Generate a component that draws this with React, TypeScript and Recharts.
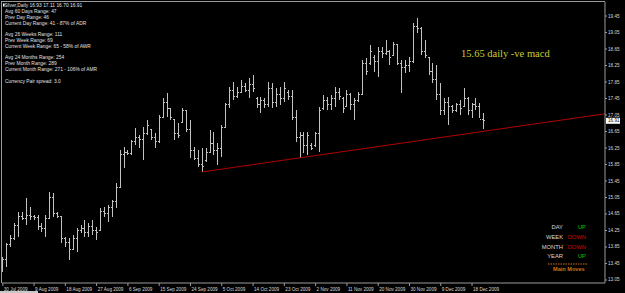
import React from 'react'
import { Bar, ComposedChart, ReferenceLine, XAxis, YAxis } from 'recharts'

// Silver, Daily OHLC, 30 Jul 2009 .. 22 Dec 2009
const highs = [
  13.61, 13.95, 14.14, 14.43, 14.7, 14.7, 15.04, 14.82, 14.63, 14.63, 14.43, 14.63, 15.18, 15.16, 14.7, 14.58,
  14.09, 14.07, 14.14, 14.31, 14.38, 14.51, 14.43, 14.51, 14.34, 14.8, 14.82, 14.87, 14.99, 15.4, 16.2, 16.27,
  16.2, 16.44, 16.74, 16.57, 16.76, 16.93, 16.69, 16.61, 17.05, 17.46, 17.58, 17.22, 16.93, 16.86, 17.22, 17.17,
  16.93, 16.27, 16.2, 16.25, 16.25, 16.69, 16.64, 16.37, 16.81, 17.34, 17.73, 17.85, 17.73, 17.9, 17.83, 17.95,
  18.02, 17.49, 17.49, 17.46, 17.85, 17.83, 17.7, 17.73, 17.85, 17.66, 17.66, 17.17, 16.64, 16.64, 16.64, 16.37,
  16.64, 17.24, 17.54, 17.49, 17.54, 17.73, 17.7, 17.49, 17.66, 17.58, 17.46, 17.61, 18.38, 18.43, 18.75, 18.5,
  18.7, 18.7, 18.87, 18.63, 18.82, 18.75, 18.38, 18.38, 18.46, 19.28, 19.4, 19.18, 18.87, 18.46, 18.31, 18.26,
  17.83, 17.46, 17.49, 17.29, 17.34, 17.41, 17.7, 17.49, 17.34, 17.46, 17.34, 17.11,
]
const lows = [
  13.24, 13.37, 13.85, 14.02, 14.09, 14.51, 14.38, 14.51, 14.51, 14.26, 14.21, 14.09, 14.55, 14.58, 14.55, 13.95,
  13.85, 13.54, 13.78, 13.73, 14.19, 14.09, 14.09, 14.14, 14.02, 14.26, 14.58, 14.46, 14.58, 14.8, 15.3, 15.77,
  16.08, 16.08, 16.32, 16.25, 15.96, 16.57, 16.44, 16.25, 16.37, 17.0, 17.0, 16.93, 16.44, 16.49, 16.88, 16.64,
  16.01, 15.96, 15.79, 15.67, 15.91, 16.15, 16.08, 15.84, 16.03, 16.74, 17.22, 17.41, 17.46, 17.58, 17.61, 17.46,
  17.61, 17.22, 17.1, 17.22, 17.24, 17.22, 17.24, 17.29, 17.37, 17.41, 16.93, 16.4, 16.01, 16.13, 16.08, 16.2,
  16.27, 16.15, 17.17, 17.17, 17.17, 17.24, 17.41, 17.1, 17.24, 17.17, 16.93, 17.37, 17.54, 18.02, 18.26, 18.09,
  17.97, 18.43, 18.5, 18.26, 18.5, 18.26, 17.58, 18.07, 18.09, 18.31, 19.04, 18.5, 18.43, 18.02, 17.83, 17.41,
  17.05, 17.05, 16.81, 17.1, 17.12, 17.05, 17.24, 17.05, 16.98, 17.17, 16.98, 16.7,
]
const opens = [
  13.3, 13.55, 13.9, 14.05, 14.38, 14.6, 14.55, 14.62, 14.58, 14.56, 14.35, 14.3, 14.55, 15.05, 14.65, 14.58,
  14.05, 13.95, 13.8, 14.05, 14.25, 14.3, 14.2, 14.35, 14.25, 14.26, 14.7, 14.65, 14.8, 14.95, 15.3, 16.1,
  16.15, 16.12, 16.4, 16.5, 16.45, 16.6, 16.69, 16.5, 16.4, 17.0, 17.35, 17.2, 16.93, 16.6, 16.88, 17.15,
  16.7, 16.2, 16.0, 15.85, 15.95, 16.15, 16.35, 16.2, 16.25, 16.75, 17.3, 17.65, 17.5, 17.6, 17.75, 17.65,
  17.8, 17.45, 17.3, 17.4, 17.3, 17.7, 17.35, 17.55, 17.45, 17.6, 17.5, 17.0, 16.5, 16.55, 16.3, 16.3,
  16.3, 16.6, 17.2, 17.4, 17.3, 17.45, 17.6, 17.45, 17.25, 17.55, 17.3, 17.4, 17.55, 18.3, 18.3, 18.45,
  18.35, 18.6, 18.55, 18.6, 18.5, 18.75, 18.3, 18.2, 18.25, 18.35, 19.2, 19.15, 18.6, 18.45, 18.1, 17.9,
  17.55, 17.15, 17.35, 17.25, 17.15, 17.3, 17.25, 17.45, 17.15, 17.3, 17.25, 16.93,
]
const closes = [
  13.55, 13.9, 14.05, 14.38, 14.6, 14.55, 14.62, 14.58, 14.56, 14.35, 14.3, 14.55, 15.05, 14.65, 14.6, 14.05,
  13.95, 13.8, 14.05, 14.25, 14.3, 14.2, 14.35, 14.25, 14.2, 14.7, 14.65, 14.8, 14.95, 15.3, 16.1, 16.15,
  16.12, 16.4, 16.5, 16.45, 16.6, 16.8, 16.5, 16.4, 17.0, 17.35, 17.2, 17.0, 16.6, 16.55, 17.15, 16.7,
  16.2, 16.0, 15.85, 15.8, 16.15, 16.35, 16.2, 16.25, 16.75, 17.3, 17.65, 17.5, 17.6, 17.75, 17.65, 17.8,
  17.7, 17.3, 17.4, 17.3, 17.7, 17.35, 17.55, 17.45, 17.7, 17.5, 17.0, 16.5, 16.55, 16.3, 16.55, 16.25,
  16.6, 17.15, 17.4, 17.3, 17.45, 17.6, 17.5, 17.2, 17.55, 17.3, 17.4, 17.55, 18.3, 18.1, 18.6, 18.35,
  18.6, 18.55, 18.6, 18.45, 18.75, 18.3, 18.2, 18.25, 18.35, 19.2, 19.15, 18.6, 18.5, 18.1, 17.9, 17.55,
  17.15, 17.35, 17.25, 17.15, 17.3, 17.2, 17.45, 17.15, 17.3, 17.25, 16.95, 16.91,
]

const dateTickIdx = [0, 8, 16, 24, 32, 40, 48, 56, 64, 72, 80, 88, 96, 104, 112, 120]
const dateLabels = [
  '30 Jul 2009', '9 Aug 2009', '18 Aug 2009', '27 Aug 2009', '6 Sep 2009', '15 Sep 2009', '24 Sep 2009',
  '5 Oct 2009', '14 Oct 2009', '23 Oct 2009', '2 Nov 2009', '11 Nov 2009', '20 Nov 2009', '30 Nov 2009',
  '9 Dec 2009', '18 Dec 2009',
]
const priceTicks = [
  13.05, 13.45, 13.85, 14.25, 14.65, 15.05, 15.45, 15.85, 16.25, 16.65, 17.05, 17.45, 17.85, 18.25, 18.65,
  19.05, 19.45,
]
const lastPrice = 16.91
const trendFrom = { i: 51, p: 15.67 }
const trendTo = { i: 154, p: 17.08 }

const infoLines = [
  { t: 'Silver,Daily  16.93 17.11 16.70 16.91', y: 5.7 },
  { t: 'Avg 60 Days Range: 47', y: 11 },
  { t: 'Prev Day Range: 46', y: 17 },
  { t: 'Current Day Range: 41 - 87% of ADR', y: 23 },
  { t: 'Avg 26 Weeks Range: 111', y: 34 },
  { t: 'Prev Week Range: 69', y: 40 },
  { t: 'Current Week Range: 65 - 58% of AWR', y: 46 },
  { t: 'Avg 24 Months Range: 254', y: 57.5 },
  { t: 'Prev Month Range: 289', y: 63.5 },
  { t: 'Current Month Range: 271 - 106% of AMR', y: 69.5 },
  { t: 'Currency Pair spread: 3.0', y: 81 },
]
const moveLabels = ['DAY', 'WEEK', 'MONTH', 'YEAR']
const moveDirs = ['UP', 'DOWN', 'DOWN', 'UP']

const data = highs.map((h, i) => ({
  i,
  range: [lows[i], h],
  high: h,
  low: lows[i],
  open: opens[i],
  close: closes[i],
}))

const SANS = '"Liberation Sans", Arial, sans-serif'
const BAR = '#c2c2c2'
const FRAME = '#9a9a9a'

function OhlcBar(props: any) {
  const { x, y, width, height, payload } = props
  if (!payload) return null
  const cx = Math.round(x + width / 2) + 0.5
  const span = payload.high - payload.low || 1
  const yo = y + ((payload.high - payload.open) / span) * height
  const yc = y + ((payload.high - payload.close) / span) * height
  return (
    <g stroke={BAR} strokeWidth={1} shapeRendering="crispEdges">
      <line x1={cx} x2={cx} y1={y} y2={y + height} />
      <line x1={cx - 1.5} x2={cx} y1={yo} y2={yo} />
      <line x1={cx} x2={cx + 1.5} y1={yc} y2={yc} />
    </g>
  )
}

function DateTick({ x, y, payload }: any) {
  const label = dateLabels[dateTickIdx.indexOf(payload.value)]
  return (
    <text x={x + 1} y={y + 1} fontSize={4.6} fill="#d8d8d8" fontFamily={SANS} dominantBaseline="central">
      {label}
    </text>
  )
}

function PriceTick({ x, y, payload }: any) {
  return (
    <text x={x} y={y} fontSize={4.6} fill="#d8d8d8" fontFamily={SANS} dominantBaseline="central">
      {payload.value.toFixed(2)}
    </text>
  )
}

function PriceTag({ viewBox }: any) {
  const right = viewBox.x + viewBox.width
  const y = viewBox.y
  return (
    <g>
      <rect x={right + 1} y={y - 3} width={14} height={6} fill="#ffffff" />
      <text x={right + 3} y={y} fontSize={4.6} fill="#000" fontFamily={SANS} dominantBaseline="central">
        {lastPrice.toFixed(2)}
      </text>
    </g>
  )
}

export default function App() {
  return (
    <div style={{ position: 'fixed', left: 0, top: 0, width: 625, height: 293, background: '#000', overflow: 'hidden' }}>
      <ComposedChart width={625} height={293} data={data} margin={{ top: 2, right: 0, bottom: 0, left: 2 }}>
        <XAxis
          dataKey="i"
          type="number"
          domain={[-0.2, 154]}
          allowDataOverflow
          ticks={dateTickIdx}
          tick={<DateTick />}
          tickSize={3}
          tickLine={{ stroke: FRAME }}
          axisLine={{ stroke: FRAME }}
          height={10}
          interval={0}
        />
        <YAxis
          orientation="right"
          type="number"
          domain={[12.977, 19.79]}
          allowDataOverflow
          ticks={priceTicks}
          tick={<PriceTick />}
          tickSize={2}
          tickMargin={1}
          tickLine={{ stroke: FRAME }}
          axisLine={{ stroke: FRAME }}
          width={20}
          interval={0}
        />
        <Bar dataKey="range" barSize={3} shape={<OhlcBar />} isAnimationActive={false} />
        <ReferenceLine
          segment={[
            { x: trendFrom.i, y: trendFrom.p },
            { x: trendTo.i, y: trendTo.p },
          ]}
          stroke="#b00000"
          strokeWidth={1}
          ifOverflow="visible"
        />
        <ReferenceLine y={lastPrice} stroke="none" label={<PriceTag />} ifOverflow="visible" />
      </ComposedChart>
      <svg width={625} height={293} style={{ position: 'absolute', left: 0, top: 0, pointerEvents: 'none' }}>
        <line x1={1.5} x2={1.5} y1={1} y2={283} stroke={FRAME} />
        <line x1={1} x2={605} y1={1.5} y2={1.5} stroke={FRAME} />
        <path d="M3 3 L3 7 L5 5 Z" fill="#fff" />
        {infoLines.map((l, k) => (
          <text
            key={k}
            x={k === 0 ? 4 : 5}
            y={l.y}
            fontSize={4.9}
            fill="#e0e0e0"
            fontFamily={SANS}
            dominantBaseline="central"
          >
            {l.t}
          </text>
        ))}
        <text x={461} y={53} fontSize={10.5} fill="#cccc33" fontFamily='"Liberation Serif", "Times New Roman", serif' dominantBaseline="central">
          15.65 daily -ve macd
        </text>
        {moveLabels.map((m, k) => (
          <g key={m}>
            <text x={563} y={227 + k * 9.8} fontSize={5.8} fill="#d8d8d8" fontFamily={SANS} textAnchor="end" dominantBaseline="central">
              {m}
            </text>
            <text
              x={586}
              y={227 + k * 9.8}
              fontSize={5.8}
              fill={moveDirs[k] === 'UP' ? '#00c800' : '#d40000'}
              fontFamily={SANS}
              textAnchor="end"
              dominantBaseline="central"
            >
              {moveDirs[k]}
            </text>
          </g>
        ))}
        <line x1={548} x2={587} y1={264} y2={264} stroke="#d07010" strokeDasharray="1.5 1" />
        <text x={553} y={268.5} fontSize={5.6} fontWeight="bold" fill="#d07010" fontFamily={SANS} dominantBaseline="central">
          Main Moves
        </text>
        <rect x={0} y={291} width={38} height={2} fill="#c8c8c8" />
      </svg>
    </div>
  )
}
